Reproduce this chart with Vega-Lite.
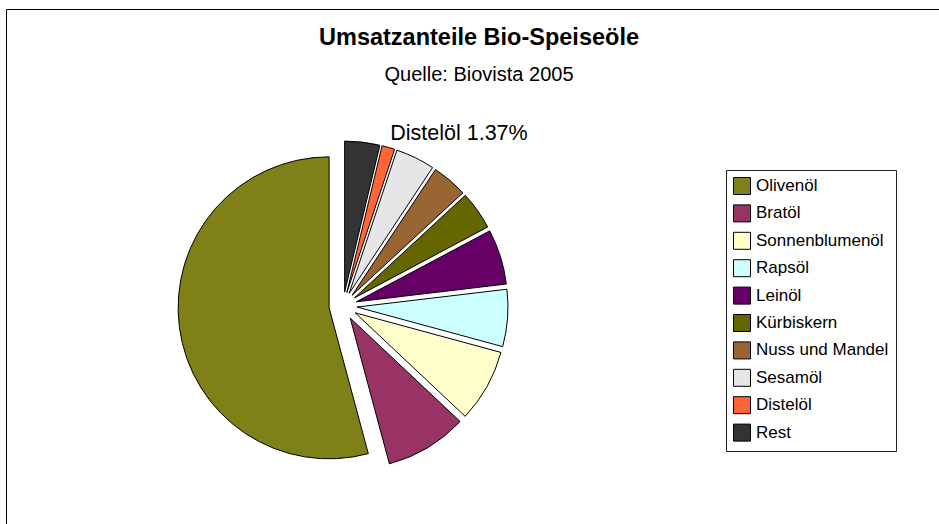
{
  "$schema": "https://vega.github.io/schema/vega-lite/v6.json",
  "width": 938,
  "height": 520,
  "autosize": "none",
  "padding": {"left": 6, "top": 9, "right": -5, "bottom": -5},
  "background": "white",
  "view": {"stroke": "#000000", "strokeWidth": 1, "fill": "#ffffff"},
  "config": {
    "view": {"stroke": "#000000", "strokeWidth": 1},
    "font": "Liberation Sans"
  },
  "title": {
    "text": "Umsatzanteile Bio-Speiseöle",
    "subtitle": "Quelle: Biovista 2005",
    "font": "Liberation Sans",
    "fontSize": 23.5,
    "fontWeight": "bold",
    "color": "#000000",
    "subtitleFont": "Liberation Sans",
    "subtitleFontSize": 20,
    "subtitleColor": "#000000",
    "subtitlePadding": 16,
    "anchor": "middle",
    "dx": 4,
    "offset": -76
  },
  "data": {
    "values": [
      {"name": "Olivenöl", "value": 54.18, "order": 10, "label": ""},
      {"name": "Bratöl", "value": 8.8, "order": 9, "label": ""},
      {"name": "Sonnenblumenöl", "value": 7.8, "order": 8, "label": ""},
      {"name": "Rapsöl", "value": 6.1, "order": 7, "label": ""},
      {"name": "Leinöl", "value": 5.9, "order": 6, "label": ""},
      {"name": "Kürbiskern", "value": 4.1, "order": 5, "label": ""},
      {"name": "Nuss und Mandel", "value": 3.8, "order": 4, "label": ""},
      {"name": "Sesamöl", "value": 4.2, "order": 3, "label": ""},
      {"name": "Distelöl", "value": 1.37, "order": 2, "label": "Distelöl 1.37%"},
      {"name": "Rest", "value": 3.75, "order": 1, "label": ""}
    ]
  },
  "layer": [
    {
      "transform": [
        {"stack": "value", "groupby": [], "sort": [{"field": "order", "order": "ascending"}], "as": ["s0", "s1"]}
      ],
      "mark": {
        "type": "arc",
        "radius": 151,
        "stroke": "#000000",
        "strokeWidth": 1,
        "x": {"expr": "337 + 14*sin(PI*(datum.s0+datum.s1)/100)"},
        "y": {"expr": "297 - 14*cos(PI*(datum.s0+datum.s1)/100)"}
      },
      "encoding": {
        "theta": {"field": "s0", "type": "quantitative", "scale": {"domain": [0, 100]}},
        "theta2": {"field": "s1"},
        "color": {
          "field": "name",
          "type": "nominal",
          "scale": {
            "domain": ["Olivenöl", "Bratöl", "Sonnenblumenöl", "Rapsöl", "Leinöl", "Kürbiskern", "Nuss und Mandel", "Sesamöl", "Distelöl", "Rest"],
            "range": ["#808018", "#993366", "#FFFFCC", "#CCFFFF", "#660066", "#666600", "#996633", "#E6E6E6", "#FF6633", "#333333"]
          },
          "legend": {
            "title": null,
            "orient": "none",
            "legendX": 720,
            "legendY": 161,
            "symbolType": "square",
            "symbolSize": 289,
            "symbolStrokeColor": "#000000",
            "symbolStrokeWidth": 1,
            "symbolOpacity": 1,
            "labelFont": "Liberation Sans",
            "labelFontSize": 17,
            "labelColor": "#000000",
            "labelOffset": 5,
            "labelLimit": 300,
            "rowPadding": 5.4,
            "padding": 7,
            "strokeColor": "#222222",
            "fillColor": "#ffffff"
          }
        }
      }
    },
    {
      "mark": {
        "type": "text",
        "x": 337,
        "y": 297,
        "radius": 179,
        "align": "left",
        "baseline": "middle",
        "dx": -2,
        "font": "Liberation Sans",
        "fontSize": 21.5,
        "color": "#000000"
      },
      "encoding": {
        "theta": {"field": "value", "type": "quantitative", "stack": true, "scale": {"domain": [0, 100]}},
        "order": {"field": "order", "type": "quantitative"},
        "text": {"field": "label"}
      }
    }
  ]
}
